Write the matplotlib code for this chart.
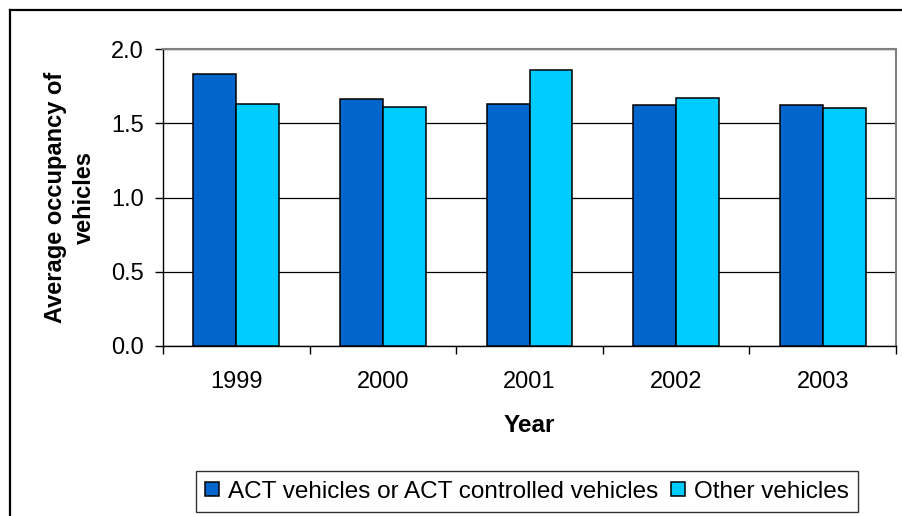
import matplotlib
matplotlib.use('Agg')
import matplotlib.pyplot as plt
from matplotlib.lines import Line2D
from matplotlib.ticker import FixedLocator
import numpy as np

plt.rcParams['font.family'] = ['Liberation Sans', 'DejaVu Sans']

# Average occupancy of vehicles by year
years = ['1999', '2000', '2001', '2002', '2003']
act_vehicles = [1.83, 1.66, 1.63, 1.62, 1.62]
other_vehicles = [1.63, 1.61, 1.86, 1.67, 1.60]

W, H = 902, 516
fig = plt.figure(figsize=(W / 100, H / 100), dpi=100)
ax = fig.add_axes([163 / W, 1 - 346 / H, 733 / W, 297 / H])

x = np.arange(len(years))
bw = 0.293
ax.bar(x - bw / 2, act_vehicles, bw, color='#0066CC', edgecolor='black',
       linewidth=1.1, label='ACT vehicles or ACT controlled vehicles', zorder=3)
ax.bar(x + bw / 2, other_vehicles, bw, color='#00CCFF', edgecolor='black',
       linewidth=1.1, label='Other vehicles', zorder=3)

ax.set_xlim(-0.5, len(years) - 0.5)
ax.set_ylim(0, 2.0)
ax.set_yticks([0, 0.5, 1.0, 1.5, 2.0])
ax.set_yticklabels(['0.0', '0.5', '1.0', '1.5', '2.0'])
ax.set_xticks(x)
ax.set_xticklabels(years)
ax.xaxis.set_minor_locator(FixedLocator(np.arange(-0.5, len(years), 1.0)))

ax.tick_params(axis='x', which='major', length=0, pad=18, labelsize=17)
ax.tick_params(axis='x', which='minor', direction='out', length=6, width=1, color='black')
ax.tick_params(axis='y', direction='out', length=6, width=1, pad=8, labelsize=17)

ax.grid(axis='y', color='black', linewidth=0.9, zorder=0)
ax.set_axisbelow(True)

for s in ['top', 'right']:
    ax.spines[s].set_color('#808080')
    ax.spines[s].set_linewidth(1.5)
for s in ['left', 'bottom']:
    ax.spines[s].set_color('black')
    ax.spines[s].set_linewidth(1)

ax.set_xlabel('Year', fontsize=17.5, fontweight='bold', labelpad=15)
ax.set_ylabel('Average occupancy of\nvehicles', fontsize=17, fontweight='bold',
              labelpad=11, linespacing=1.3)

leg = fig.legend(loc='center', bbox_to_anchor=(527 / W, 1 - 491.5 / H), ncol=2,
                 fontsize=17.5, frameon=True, fancybox=False, edgecolor='black',
                 handlelength=0.55, handleheight=0.55, handletextpad=0.38,
                 columnspacing=0.54, borderpad=0.4)
leg.get_frame().set_linewidth(1.0)

# outer chart border (left and top edges visible)
fig.add_artist(Line2D([10 / W, 10 / W], [1 - 10 / H, 0], transform=fig.transFigure,
                      color='black', linewidth=1.6))
fig.add_artist(Line2D([10 / W, 1], [1 - 10 / H, 1 - 10 / H], transform=fig.transFigure,
                      color='black', linewidth=1.6))

fig.savefig('out.png', dpi=100)
